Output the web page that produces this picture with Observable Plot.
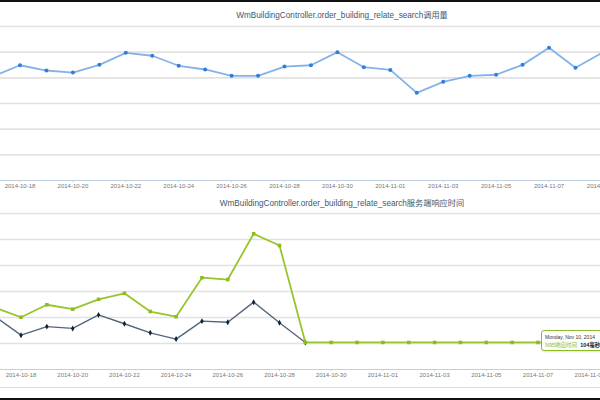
<!DOCTYPE html>
<html>
<head>
<meta charset="utf-8">
<script src="https://cdn.jsdelivr.net/npm/d3@7"></script>
<script src="https://cdn.jsdelivr.net/npm/@observablehq/plot@0.6"></script>
<style>
  html, body { margin: 0; padding: 0; background: #fff; }
  #wrap { position: relative; width: 600px; height: 400px; overflow: hidden; background: #fff; }
  .chart { position: absolute; left: 0; }
  .title { position: absolute; left: 92px; width: 500px; text-align: center; font-family: "Liberation Sans", "Noto Sans CJK SC", sans-serif; font-size: 8.2px; line-height: 10px; color: #3E576F; white-space: nowrap; }
  .bar { position: absolute; left: 0; width: 600px; background: #111; }
  .sep { position: absolute; left: 0; width: 600px; height: 1px; background: #dcdcdc; }
  #tip { position: absolute; left: 541px; top: 330px; width: 80px; height: 19px; border: 1px solid #8bbc21; border-radius: 3px; background: rgba(255,255,255,0.9); font-family: "Liberation Sans", "Noto Sans CJK SC", sans-serif; box-shadow: 1px 1px 2px rgba(0,0,0,0.12); }
  #tip .l1 { position: absolute; left: 3px; top: 3px; font-size: 5px; color: #333; white-space: nowrap; }
  #tip .l2 { position: absolute; left: 3px; top: 10px; font-size: 5.5px; color: #8bbc21; white-space: nowrap; }
  #tip .l2 b { color: #222; }
</style>
</head>
<body>
<div id="wrap">
  <div class="bar" style="top:0;height:2px"></div>
  <div class="title" style="top:11px">WmBuildingController.order_building_relate_search调用量</div>
  <div class="title" style="top:199px">WmBuildingController.order_building_relate_search服务端响应时间</div>
  <div id="top" class="chart" style="top:0"></div>
  <div id="bottom" class="chart" style="top:190px"></div>
  <div class="sep" style="top:387px"></div>
  <div id="tip"><div class="l1">Monday, Nov 10, 2014</div><div class="l2">N95响应时间: <b>104毫秒</b></div></div>
  <div class="bar" style="top:398px;height:2px"></div>
</div>
<script>
// ---- data ----
const callDates = ["2014-10-17","2014-10-18","2014-10-19","2014-10-20","2014-10-21","2014-10-22","2014-10-23","2014-10-24","2014-10-25","2014-10-26","2014-10-27","2014-10-28","2014-10-29","2014-10-30","2014-10-31","2014-11-01","2014-11-02","2014-11-03","2014-11-04","2014-11-05","2014-11-06","2014-11-07","2014-11-08","2014-11-09"];
const callCounts = [4070,4490,4285,4205,4505,4975,4860,4470,4325,4080,4080,4440,4490,5000,4415,4310,3415,3845,4080,4120,4505,5170,4390,4970];

const respDates = ["2014-10-17","2014-10-18","2014-10-19","2014-10-20","2014-10-21","2014-10-22","2014-10-23","2014-10-24","2014-10-25","2014-10-26","2014-10-27","2014-10-28","2014-10-29","2014-10-30","2014-10-31","2014-11-01","2014-11-02","2014-11-03","2014-11-04","2014-11-05","2014-11-06","2014-11-07","2014-11-08","2014-11-09","2014-11-10"];
const resp95 = [238,201,249,232,270,293,223,203,353,346,522,477,104,104,104,104,104,104,104,104,104,104,104,104,104];
const avgDates = ["2014-10-17","2014-10-18","2014-10-19","2014-10-20","2014-10-21","2014-10-22","2014-10-23","2014-10-24","2014-10-25","2014-10-26","2014-10-27","2014-10-28","2014-10-29"];
const respAvg = [203,132,165,158,210,176,141,117,186,182,259,180,104];

const tickLabels = ["2014-10-18","2014-10-20","2014-10-22","2014-10-24","2014-10-26","2014-10-28","2014-10-30","2014-11-01","2014-11-03","2014-11-05","2014-11-07","2014-11-09"];
const callGrid = [1000,2000,3000,4000,5000,6000];
const respGrid = [100,200,300,400,500,600];

// ---- helpers ----
const parse = d3.utcParse("%Y-%m-%d");
const DAY = 864e5;
const d0 = parse("2014-10-18").getTime();
const ticks = tickLabels.map(parse);
const fmt = d3.utcFormat("%Y-%m-%d");

const callData = callDates.map((d, i) => ({date: parse(d), v: callCounts[i]}));
const p95Data = respDates.map((d, i) => ({date: parse(d), v: resp95[i]}));
const avgData = avgDates.map((d, i) => ({date: parse(d), v: respAvg[i]}));

function axis() {
  return Plot.axisX(ticks, {tickFormat: fmt, tickSize: 2, tickPadding: 1.5, stroke: "#C0D0E0", fill: "#777", fontSize: 6, fontFamily: "Liberation Sans, sans-serif"});
}

// ---- top chart ----
const topPlot = Plot.plot({
  width: 600, height: 200,
  marginLeft: 0, marginRight: 0, marginTop: 26, marginBottom: 20,
  style: {background: "transparent", overflow: "visible"},
  x: {type: "utc", domain: [new Date(d0 - 0.737 * DAY), new Date(d0 + 21.946 * DAY)]},
  y: {domain: [0, 6000], axis: null},
  marks: [
    Plot.ruleY(callGrid, {stroke: "#e2e2e2", strokeWidth: 1.6}),
    Plot.ruleY([0], {stroke: "#C0D0E0", strokeWidth: 1.2}),
    axis(),
    Plot.line(callData, {x: "date", y: "v", stroke: "#86b2ea", strokeWidth: 1.8, clip: true}),
    Plot.dot(callData, {x: "date", y: "v", fill: "#2f7ed8", r: 2, clip: true})
  ]
});
document.getElementById("top").appendChild(topPlot);

// ---- bottom chart ----
const botPlot = Plot.plot({
  width: 600, height: 210,
  marginLeft: 0, marginRight: 0, marginTop: 23, marginBottom: 31,
  style: {background: "transparent", overflow: "visible"},
  x: {type: "utc", domain: [new Date(d0 - 0.793 * DAY), new Date(d0 + 22.418 * DAY)]},
  y: {domain: [0, 600], axis: null},
  marks: [
    Plot.ruleY(respGrid, {stroke: "#e2e2e2", strokeWidth: 1.6}),
    Plot.ruleY([0], {stroke: "#C0D0E0", strokeWidth: 1.2}),
    axis(),
    Plot.line(avgData, {x: "date", y: "v", stroke: "#55657a", strokeWidth: 1.4, clip: true}),
    Plot.dot(avgData, {x: "date", y: "v", fill: "#0d233a", symbol: "diamond", r: 1.8, clip: true}),
    Plot.line(p95Data, {x: "date", y: "v", stroke: "#96c62c", strokeWidth: 1.8, clip: true}),
    Plot.dot(p95Data, {x: "date", y: "v", fill: "#8bbc21", symbol: "square", r: 2, clip: true})
  ]
});
document.getElementById("bottom").appendChild(botPlot);
</script>
</body>
</html>
